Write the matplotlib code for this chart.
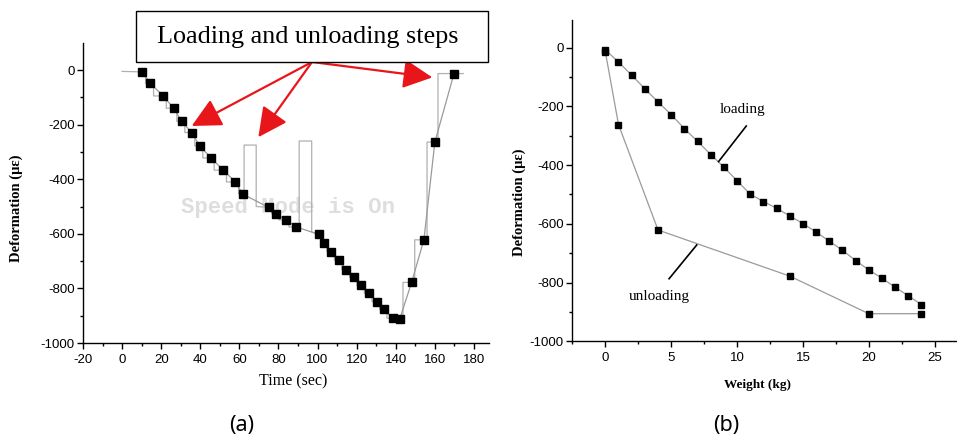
import matplotlib
matplotlib.use("Agg")
import matplotlib.pyplot as plt
from matplotlib.ticker import MultipleLocator
from matplotlib.patches import Rectangle

plt.rcParams["axes.unicode_minus"] = False
plt.rcParams["font.family"] = "Liberation Sans"

# (a) strain vs time, one marker per load step (loading then unloading)
time_s = [10.4, 14.5, 21.0, 26.4, 30.5, 35.6, 39.7, 45.5, 51.8, 58.0,
          61.6, 74.9, 78.6, 83.8, 89.2, 100.5, 103.2, 107.0, 110.9, 114.8,
          118.6, 122.3, 126.2, 130.2, 133.9, 138.4,
          142.1, 148.1, 154.4, 160.0, 169.8]
strain_t = [-7, -49, -95, -140, -188, -229, -278, -322, -367, -410,
            -454, -503, -526, -549, -575, -602, -632, -665, -697, -731,
            -760, -789, -818, -848, -877, -909,
            -911, -778, -622, -264, -13]

# spikes in the raw signal while loading
spike_start = [62.4, 90.6]
spike_end = [68.6, 97.0]
spike_top = [-275, -260]
spike_floor = [-500, -593]

trace_t0, trace_v0 = 0.0, -5
trace_t_end = 174.5
step_lag = 1.6

# (b) strain vs applied weight
load_kg = list(range(25))
load_ue = [-8, -49, -94, -140, -185, -228, -276, -319, -364, -407,
           -453, -499, -524, -547, -573, -599, -628, -659, -690, -725,
           -757, -785, -816, -845, -875]
unload_kg = [24, 20, 14, 4, 1, 0]
unload_ue = [-906, -906, -778, -621, -262, -14]

GREY = "#9a9a9a"


def build_trace():
    tt, vv = [trace_t0], [trace_v0]
    for i in range(len(time_s) - 1):
        t0, v0 = time_s[i], strain_t[i]
        v1 = strain_t[i + 1]
        tt.append(t0)
        vv.append(v0)
        hit = [k for k, s in enumerate(spike_start) if t0 < s < time_s[i + 1]]
        if hit:
            k = hit[0]
            tt += [spike_start[k], spike_start[k], spike_end[k], spike_end[k]]
            vv += [v0, spike_top[k], spike_top[k], spike_floor[k]]
        else:
            tt += [t0 + step_lag, t0 + step_lag]
            vv += [v0, v1]
    tt += [time_s[-1], trace_t_end]
    vv += [strain_t[-1], strain_t[-1]]
    return tt, vv


def style_axis(ax):
    for side in ("top", "right"):
        ax.spines[side].set_visible(False)
    for side in ("left", "bottom"):
        ax.spines[side].set_linewidth(1.0)
    ax.tick_params(which="major", direction="out", length=4, width=1, labelsize=9.5, pad=2)
    ax.tick_params(which="minor", direction="out", length=2.5, width=1)
    ax.tick_params(axis="x", which="major", pad=4)


fig = plt.figure(figsize=(9.57, 4.38), dpi=100)

# ---- panel (a)
axa = fig.add_axes([83 / 957, 1 - 343 / 438, 406 / 957, 300 / 438])
tr_t, tr_v = build_trace()
axa.plot(tr_t, tr_v, color="#b0b0b0", lw=0.9, zorder=2)
axa.plot(time_s, strain_t, color=GREY, lw=0.9, zorder=2)
axa.plot(time_s, strain_t, ls="none", marker="s", ms=5.8, color="black", zorder=3)
axa.set_xlim(-20, 187.7)
axa.set_ylim(-1000, 99)
axa.xaxis.set_major_locator(MultipleLocator(20))
axa.xaxis.set_minor_locator(MultipleLocator(10))
axa.yaxis.set_major_locator(MultipleLocator(200))
axa.yaxis.set_minor_locator(MultipleLocator(100))
style_axis(axa)
axa.text(85, -502, "Speed Mode is On", family="Liberation Mono", weight="bold",
         fontsize=16, color="#dedede", ha="center", va="center", zorder=1)

fig.text(293 / 957, 1 - 381 / 438, "Time (sec)", family="Liberation Serif",
         fontsize=11.5, ha="center", va="center")
fig.text(16 / 957, 1 - 208 / 438, "Deformation (με)", family="Liberation Serif",
         fontsize=10.5, weight="bold", rotation=90, ha="center", va="center")

# callout box and arrows
fig.add_artist(Rectangle((136 / 957, 1 - 62 / 438), 352 / 957, 51 / 438,
                         transform=fig.transFigure, facecolor="white",
                         edgecolor="black", lw=1.0, zorder=5))
fig.text(157 / 957, 1 - 37 / 438, "Loading and unloading steps",
         family="Liberation Serif", fontsize=18.8, ha="left", va="center", zorder=6)
for tip in [(35.6, -205), (69.7, -246), (158.7, -27)]:
    axa.annotate("", xy=tip, xytext=(312 / 957, 1 - 62 / 438),
                 textcoords="figure fraction", annotation_clip=False,
                 arrowprops=dict(arrowstyle="-|>,head_length=1.0,head_width=0.5",
                                 color="#e8161b", lw=1.6, mutation_scale=18,
                                 shrinkA=0, shrinkB=0), zorder=6)

# ---- panel (b)
axb = fig.add_axes([572 / 957, 1 - 341.3 / 438, 385 / 957, 321.3 / 438])
axb.plot(unload_kg, unload_ue, color=GREY, lw=0.9, zorder=2)
axb.plot(load_kg, load_ue, color=GREY, lw=0.9, zorder=2)
axb.plot(load_kg, load_ue, ls="none", marker="s", ms=5, color="black", zorder=3)
axb.plot(unload_kg, unload_ue, ls="none", marker="s", ms=5, color="black", zorder=3)
axb.set_xlim(-2.53, 26.7)
axb.set_ylim(-1000, 94)
axb.xaxis.set_major_locator(MultipleLocator(5))
axb.xaxis.set_minor_locator(MultipleLocator(2.5))
axb.yaxis.set_major_locator(MultipleLocator(200))
axb.yaxis.set_minor_locator(MultipleLocator(100))
style_axis(axb)

axb.text(10.4, -212, "loading", family="Liberation Serif", fontsize=11,
         ha="center", va="center")
axb.plot([10.7, 8.6], [-267, -388], color="black", lw=1.2)
axb.text(4.1, -846, "unloading", family="Liberation Serif", fontsize=11,
         ha="center", va="center")
axb.plot([4.84, 6.94], [-787, -672], color="black", lw=1.2)

fig.text(757 / 957, 1 - 385 / 438, "Weight (kg)", family="Liberation Serif",
         fontsize=9.5, weight="bold", ha="center", va="center")
fig.text(519 / 957, 1 - 202 / 438, "Deformation (με)", family="Liberation Serif",
         fontsize=10.5, weight="bold", rotation=90, ha="center", va="center")

# panel tags
fig.text(242 / 957, 1 - 426 / 438, "(a)", family="Noto Sans", fontsize=15.5,
         ha="center", va="center")
fig.text(726 / 957, 1 - 426 / 438, "(b)", family="Noto Sans", fontsize=15.5,
         ha="center", va="center")

fig.savefig("out.png", dpi=100, facecolor="white")
